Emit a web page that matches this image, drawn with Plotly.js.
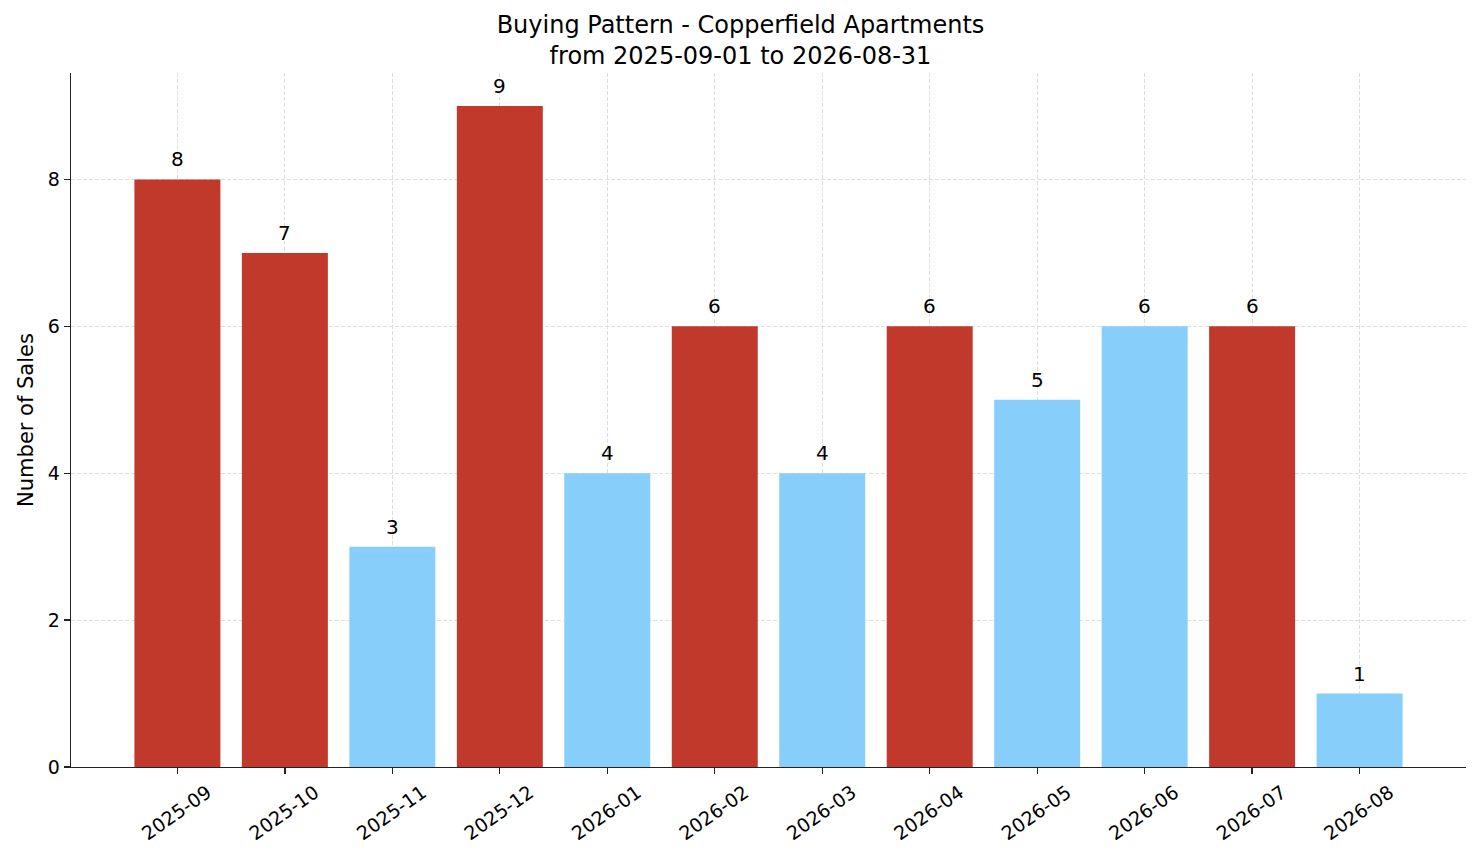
<!DOCTYPE html>
<html>
<head>
<meta charset="utf-8">
<script src="https://cdn.plot.ly/plotly-3.0.1.min.js"></script>
<style>
  html, body { margin: 0; padding: 0; background: #fff; }
  #chart { width: 1481px; height: 863px; }
</style>
</head>
<body>
<div id="chart"></div>
<script>
// data
const months = ["2025-09", "2025-10", "2025-11", "2025-12", "2026-01", "2026-02",
                "2026-03", "2026-04", "2026-05", "2026-06", "2026-07", "2026-08"];
const sales = [8, 7, 3, 9, 4, 6, 4, 6, 5, 6, 6, 1];
const barColors = ["#c0392b", "#c0392b", "#87cefa", "#c0392b", "#87cefa", "#c0392b",
                   "#87cefa", "#c0392b", "#87cefa", "#87cefa", "#c0392b", "#87cefa"];

const font = "DejaVu Sans, sans-serif";

const trace = {
  type: "bar",
  x: months,
  y: sales,
  width: 0.8,
  marker: { color: barColors, line: { width: 0 } },
  hoverinfo: "x+y"
};

// value labels above each bar
const labels = months.map((m, i) => ({
  x: m,
  y: sales[i],
  xref: "x",
  yref: "y",
  text: String(sales[i]),
  showarrow: false,
  yanchor: "bottom",
  yshift: 6,
  font: { family: font, size: 20, color: "#000" }
}));

const gridStyle = { showgrid: true, gridcolor: "#d6d6d6", griddash: "4px,2px", gridwidth: 0.8 };

const layout = {
  width: 1481,
  height: 863,
  paper_bgcolor: "#fff",
  plot_bgcolor: "#fff",
  margin: { l: 71, r: 15, t: 73, b: 96 },
  showlegend: false,
  title: {
    text: "Buying Pattern - Copperfield Apartments<br>from 2025-09-01 to 2026-08-31",
    font: { family: font, size: 24, color: "#000" },
    x: 0.5, xanchor: "center",
    y: 0.962, yanchor: "top"
  },
  annotations: labels,
  xaxis: Object.assign({
    type: "category",
    range: [-0.99, 11.99],
    tickangle: -35,
    ticklabelshift: 30,
    tickfont: { family: font, size: 19, color: "#000" },
    ticks: "outside", ticklen: 6, tickwidth: 1.3, tickcolor: "#222",
    showline: true, linecolor: "#222", linewidth: 1.3,
    zeroline: false,
    layer: "above traces"
  }, gridStyle),
  yaxis: Object.assign({
    range: [0, 9.45],
    tickvals: [0, 2, 4, 6, 8],
    tickfont: { family: font, size: 19, color: "#000" },
    ticks: "outside", ticklen: 6, tickwidth: 1.3, tickcolor: "#222",
    showline: true, linecolor: "#222", linewidth: 1.3,
    zeroline: false,
    layer: "above traces",
    title: { text: "Number of Sales", font: { family: font, size: 21, color: "#000" }, standoff: 8 }
  }, gridStyle)
};

Plotly.newPlot("chart", [trace], layout, { displayModeBar: false, staticPlot: true });
</script>
</body>
</html>
